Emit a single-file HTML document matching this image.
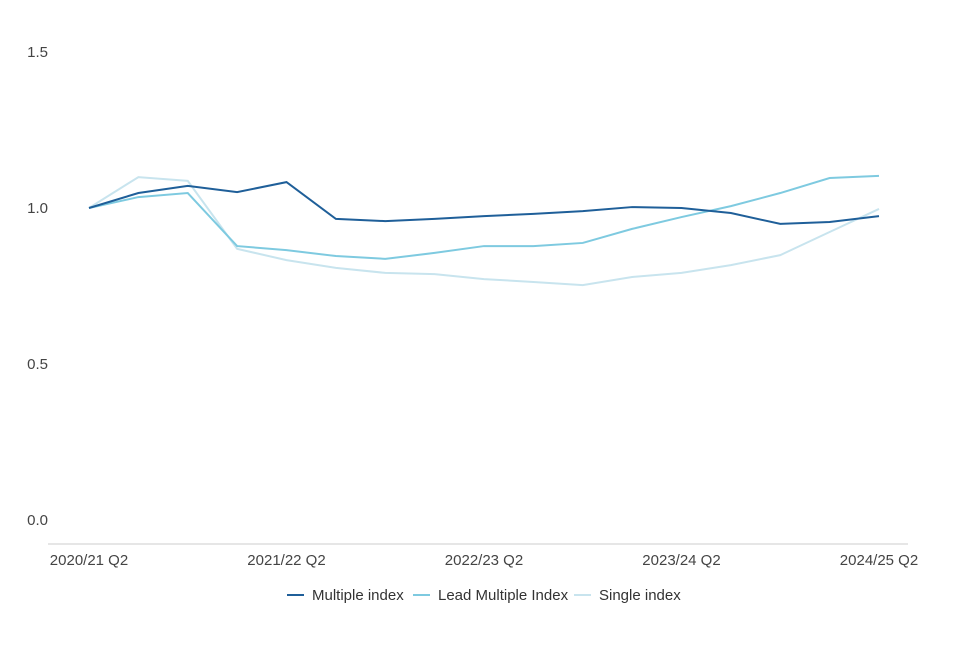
<!DOCTYPE html>
<html><head><meta charset="utf-8"><style>
body{margin:0;background:#fff;font-family:"Liberation Sans",sans-serif;}
</style></head><body>
<svg id="chart" width="960" height="640" xmlns="http://www.w3.org/2000/svg" font-family="Liberation Sans, sans-serif"></svg>
<script>
const categories=["2020/21 Q2","2020/21 Q3","2020/21 Q4","2021/22 Q1","2021/22 Q2","2021/22 Q3","2021/22 Q4","2022/23 Q1","2022/23 Q2","2022/23 Q3","2022/23 Q4","2023/24 Q1","2023/24 Q2","2023/24 Q3","2023/24 Q4","2024/25 Q1","2024/25 Q2"];
const multipleIndex=[1.0,1.048,1.071,1.051,1.083,0.965,0.958,0.965,0.974,0.981,0.990,1.003,1.0,0.984,0.949,0.955,0.974];
const leadMultipleIndex=[1.0,1.035,1.048,0.878,0.865,0.846,0.837,0.856,0.878,0.878,0.888,0.933,0.971,1.006,1.048,1.096,1.103];
const singleIndex=[1.0,1.099,1.087,0.869,0.833,0.808,0.792,0.788,0.772,0.763,0.753,0.779,0.792,0.817,0.849,0.923,0.997];
const yTicks=[0,0.5,1.0,1.5];
const xTickLabels=["2020/21 Q2","2021/22 Q2","2022/23 Q2","2023/24 Q2","2024/25 Q2"];
const svg=document.getElementById('chart');const NS="http://www.w3.org/2000/svg";
const x=i=>89+i*(879-89)/(categories.length-1);
const y=v=>520-v*312;
function mk(t,a){const e=document.createElementNS(NS,t);for(const k in a)e.setAttribute(k,a[k]);svg.appendChild(e);return e;}
yTicks.forEach(v=>{const t=mk('text',{x:48,y:y(v)+5,'text-anchor':'end','font-size':15,fill:'#444'});t.textContent=v.toFixed(1);

});
const ax=mk('line',{x1:48,x2:908,y1:544,y2:544,stroke:'#ccc','stroke-width':1});


xTickLabels.forEach(l=>{const i=categories.indexOf(l);const t=mk('text',{x:x(i),y:565,'text-anchor':'middle','font-size':15,fill:'#444'});t.textContent=l;

});
const series=[[singleIndex,'#c8e4ee','single-index-line'],[leadMultipleIndex,'#7ecae0','lead-multiple-index-line'],[multipleIndex,'#1f5f99','multiple-index-line']];
series.forEach(([d,c,n])=>{const p=mk('polyline',{points:d.map((v,i)=>x(i)+','+y(v)).join(' '),fill:'none',stroke:c,'stroke-width':2});

});
const legend=[["Multiple index",'#1f5f99',287],["Lead Multiple Index",'#7ecae0',413],["Single index",'#c8e4ee',574]];
legend.forEach(([l,c,lx])=>{const g=mk('g',{});


const ln=document.createElementNS(NS,'line');ln.setAttribute('x1',lx);ln.setAttribute('x2',lx+17);ln.setAttribute('y1',595);ln.setAttribute('y2',595);ln.setAttribute('stroke',c);ln.setAttribute('stroke-width',2);g.appendChild(ln);
const t=document.createElementNS(NS,'text');t.setAttribute('x',lx+25);t.setAttribute('y',600);t.setAttribute('font-size',15);t.setAttribute('fill','#333');t.textContent=l;g.appendChild(t);});
</script>
</body></html>
